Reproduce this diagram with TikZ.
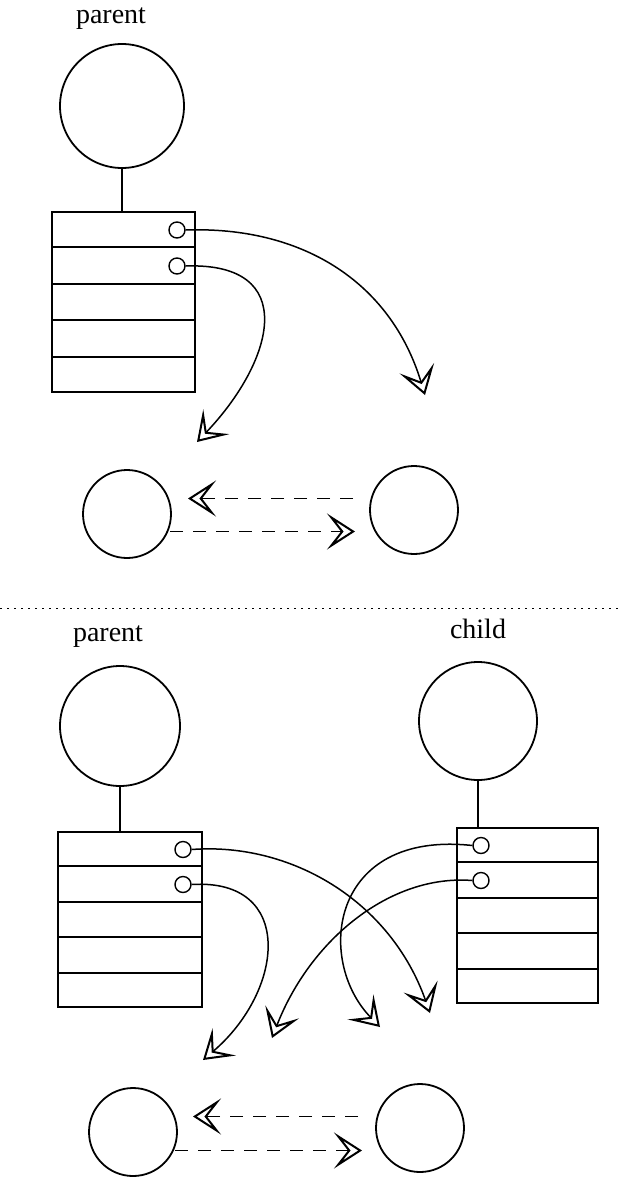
\documentclass[tikz,border=0pt]{standalone}
\usepackage{fontspec}
\setmainfont{Liberation Serif}
\usetikzlibrary{arrows.meta,calc}
\begin{document}
\begin{tikzpicture}[x=1pt,y=-1pt,
  bigc/.style={draw,circle,line width=1.8pt,inner sep=0pt},
  smallc/.style={draw,circle,line width=1.4pt,inner sep=0pt,minimum size=16pt},
  tablebox/.style={draw,rectangle,line width=2pt,inner sep=0pt},
  divider/.style={line width=2pt},
  lbl/.style={font=\fontsize{28}{32}\selectfont},
  tip/.style={-{Stealth[open,length=28pt,width=36pt,inset=14pt,line width=2pt]}},
  curv/.style={tip,line width=1.5pt},
  dsh/.style={tip,line width=1pt,dash pattern=on 13pt off 10pt},
  stem/.style={line width=2pt}]
\useasboundingbox (0,0) rectangle (619,1178);

% ---------- top half ----------
\node[lbl] (plab1) at (111,19) {parent};
\node[bigc,minimum size=124pt] (pc1) at (122,106) {};
\node[tablebox,minimum width=143pt,minimum height=180pt] (pt) at (123.5,302) {};
\foreach \k in {1,2,3,4}
  \draw[divider] ($(pt.north west)!\k/5!(pt.south west)$) -- ($(pt.north east)!\k/5!(pt.south east)$);
\draw[stem] (pc1.south) -- (pc1.south |- pt.north);
\node[smallc] (ps1) at (177,230) {};
\node[smallc] (ps2) at (177,266) {};
\coordinate (pa1) at (425,395);
\coordinate (pa2) at (197,442);
\draw[curv] (ps1.east) .. controls (300,226) and (390,280) .. (pa1);
\draw[curv] (ps2.east) .. controls (300,262) and (275,360) .. (pa2);
\node[bigc,minimum size=88pt] (q1) at (127,514) {};
\node[bigc,minimum size=88pt] (q2) at (414,510) {};
\coordinate (q1u) at (127,498.5);
\coordinate (q2u) at (414,498.5);
\coordinate (q1d) at (127,531.5);
\coordinate (q2d) at (414,531.5);
\draw[dsh,shorten <=61pt,shorten >=61pt] (q2u) -- (q1u);
\draw[dsh,shorten <=43pt,shorten >=59pt] (q1d) -- (q2d);

% ---------- separator ----------
\draw[line width=1pt,dash pattern=on 1.5pt off 5.5pt] (0,608.5) -- (619,608.5);

% ---------- bottom half ----------
\node[lbl] (plab2) at (108,637) {parent};
\node[lbl] (clab) at (478,629) {child};
\node[bigc,minimum size=120pt] (pc2) at (120,726) {};
\node[bigc,minimum size=118pt] (cc) at (478,721) {};
\node[tablebox,minimum width=144pt,minimum height=175pt] (pb) at (130,919.5) {};
\node[tablebox,minimum width=141pt,minimum height=175pt] (cb) at (527.5,915.5) {};
\foreach \k in {1,2,3,4} {
  \draw[divider] ($(pb.north west)!\k/5!(pb.south west)$) -- ($(pb.north east)!\k/5!(pb.south east)$);
  \draw[divider] ($(cb.north west)!\k/5!(cb.south west)$) -- ($(cb.north east)!\k/5!(cb.south east)$);
}
\draw[stem] (pc2.south) -- (pc2.south |- pb.north);
\draw[stem] (cc.south) -- (cc.south |- cb.north);
\node[smallc] (pbs1) at (183,849.5) {};
\node[smallc] (pbs2) at (183,884.5) {};
\node[smallc] (cbs1) at (481,845.5) {};
\node[smallc] (cbs2) at (481,880.5) {};
\coordinate (pb1t) at (430,1013);
\coordinate (pb2t) at (203,1060);
\coordinate (cb1t) at (380,1027);
\coordinate (cb2t) at (272,1038);
\draw[curv] (pbs1.east) .. controls (290,842) and (390,900) .. (pb1t);
\draw[curv] (pbs2.east) .. controls (295,878) and (285,990) .. (pb2t);
\draw[curv] (cbs1.west) .. controls (330,830) and (315,960) .. (cb1t);
\draw[curv] (cbs2.west) .. controls (390,874) and (310,940) .. (cb2t);
\node[bigc,minimum size=88pt] (r1) at (133,1132) {};
\node[bigc,minimum size=88pt] (r2) at (420,1128) {};
\coordinate (r1u) at (133,1116.5);
\coordinate (r2u) at (420,1116.5);
\coordinate (r1d) at (133,1150.5);
\coordinate (r2d) at (420,1150.5);
\draw[dsh,shorten <=62pt,shorten >=60pt] (r2u) -- (r1u);
\draw[dsh,shorten <=42pt,shorten >=58pt] (r1d) -- (r2d);
\end{tikzpicture}
\end{document}
